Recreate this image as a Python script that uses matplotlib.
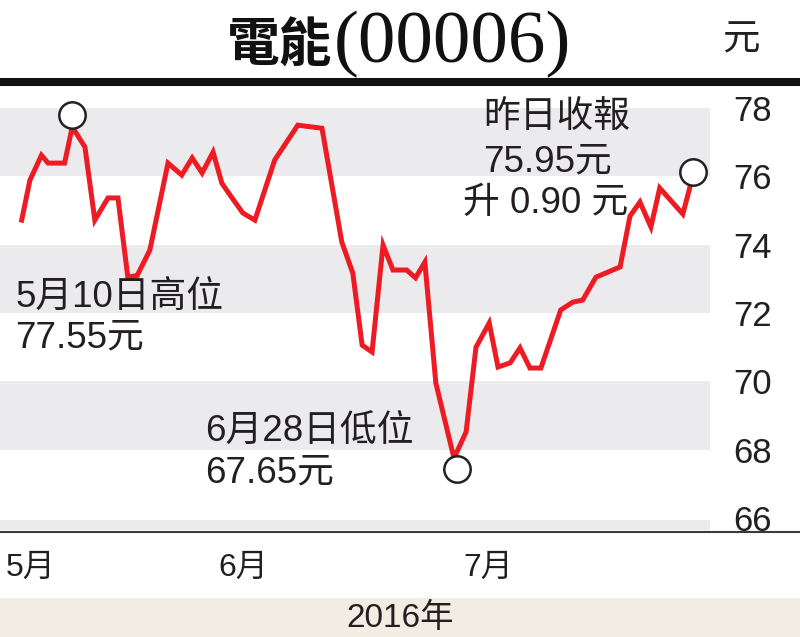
import matplotlib
matplotlib.use("Agg")
import matplotlib.pyplot as plt
from matplotlib.lines import Line2D
from matplotlib.patches import Rectangle

plt.rcParams['font.family'] = ['Liberation Sans', 'Noto Sans CJK TC', 'DejaVu Sans']

# --- DATA ----------------------------------------------------------
# trading day (0 = 3 May 2016) and close price (HK$)
days = [0.0, 0.75, 1.8, 2.4, 3.9, 4.6, 5.75, 6.65, 7.85, 8.75, 9.65, 10.5,
        11.65, 13.3, 14.55, 15.5, 16.4, 17.4, 18.2, 18.95, 20.1, 21.2, 23.0,
        25.1, 27.3, 29.1, 30.1, 30.95, 31.85, 32.85, 33.75, 35.0, 35.8, 36.65,
        37.65, 39.3, 40.4, 41.3, 42.5, 43.3, 44.4, 45.3, 46.2, 47.2, 49.0,
        50.1, 51.0, 52.2, 54.4, 55.3, 56.2, 57.2, 58.0, 60.1, 60.8]
price = [74.72, 75.89, 76.62, 76.39, 76.39, 77.45, 76.86, 74.72, 75.37, 75.37,
         73.05, 73.1, 73.84, 76.39, 76.04, 76.54, 76.1, 76.71, 75.8, 75.45,
         74.93, 74.72, 76.48, 77.5, 77.41, 74.08, 73.17, 71.06, 70.86, 73.99,
         73.26, 73.26, 73.03, 73.49, 69.95, 67.75, 68.52, 71.0, 71.71, 70.42,
         70.54, 70.98, 70.39, 70.39, 72.09, 72.32, 72.38, 73.05, 73.35, 74.84,
         75.25, 74.52, 75.66, 74.9, 75.75]

# circles: 5月10日 high, 6月28日 low, yesterday's close
mark_days = [4.6, 39.55, 61.0]
mark_price = [77.8, 67.42, 76.13]

yticks = [66, 68, 70, 72, 74, 76, 78]
bands = [(65.65, 65.95), (68, 70), (72, 74), (76, 78)]
month_pos = [0.8, 20.1, 42.4]
month_labels = ["5月", "6月", "7月"]

notes = [
    (-0.6, 72.47, "5月10日高位"),
    (-0.6, 71.27, "77.55元"),
    (16.66, 68.52, "6月28日低位"),
    (16.66, 67.32, "67.65元"),
    (41.94, 77.71, "昨日收報"),
    (41.94, 76.42, "75.95元"),
    (40.12, 75.22, "升 0.90 元"),
]

txt = "#231f20"
red = "#ed1c24"
grey = "#ebebee"

# --- PLOT ----------------------------------------------------------
fig = plt.figure(figsize=(8, 6.37), dpi=100)
ax = fig.add_axes([0, (637-532)/637, 720/800, (532-90)/637])

for lo, hi in bands:
    ax.axhspan(lo, hi, xmin=0, xmax=710/720, color=grey, lw=0, zorder=0)

ax.plot(days, price, color=red, lw=3.6, solid_joinstyle="miter", zorder=3)
ax.plot(mark_days, mark_price, "o", ms=19, mfc="white", mec="#222222",
        mew=1.8, zorder=4)

ax.set_xlim(-1.97, 63.48)
ax.set_ylim(65.59, 78.53)
ax.set_yticks(yticks)
ax.set_yticklabels([str(v) for v in yticks])
ax.yaxis.tick_right()
ax.set_xticks(month_pos)
ax.set_xticklabels(month_labels)
ax.tick_params(axis="y", length=0, pad=9.4, labelsize=25, labelcolor=txt)
ax.tick_params(axis="x", length=0, pad=15, labelsize=23, labelcolor=txt)
for s in ax.spines.values():
    s.set_visible(False)

for x, y, s in notes:
    ax.text(x, y, s, fontsize=26.5, color=txt, ha="left", va="center")

# title, unit, rules and the year strip
fig.text(332/800, 1 - 62/637, "電能", family=["Noto Sans CJK TC"],
         weight="bold", fontsize=38, color="#111111", ha="right", va="baseline")
fig.text(334/800, 1 - 62/637, "(00006)", family=["Liberation Serif"],
         fontsize=54, color="#111111", ha="left", va="baseline")
fig.text(741/800, 1 - 40/637, "元", fontsize=27, color=txt, ha="center", va="center")

fig.add_artist(Line2D([0, 1], [1 - 82/637] * 2, transform=fig.transFigure,
                      color="#111111", lw=5.8))
fig.add_artist(Line2D([0, 1], [1 - 532/637] * 2, transform=fig.transFigure,
                      color="#3a3a3a", lw=1.5))
fig.add_artist(Rectangle((0, 0), 1, 39/637, transform=fig.transFigure,
                         color="#f2ede3", lw=0, zorder=0))
fig.text(0.5, 19/637, "2016年", fontsize=24, color=txt, ha="center", va="center")

fig.savefig("out.png", dpi=100)
